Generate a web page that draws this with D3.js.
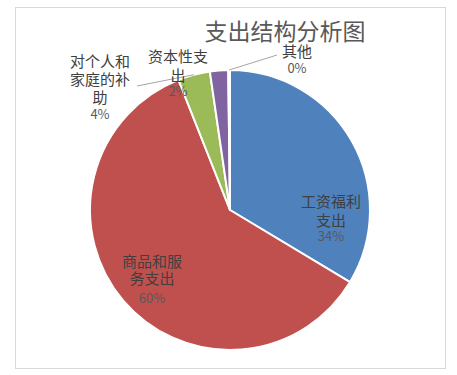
<!DOCTYPE html>
<html>
<head>
<meta charset="utf-8">
<script src="https://cdn.jsdelivr.net/npm/d3@7"></script>
<style>
  body { margin: 0; background: #fff; }
  text { font-family: "Noto Sans CJK SC", "Noto Sans", sans-serif; }
</style>
</head>
<body>
<div class="chart"></div>
<script>
// 支出结构分析图 -- pie chart of expenditure structure

var svgWidth = 457;
var svgHeight = 375;

// data
var categories = ["工资福利支出", "商品和服务支出", "对个人和家庭的补助", "资本性支出", "其他"];
var values = [33.6, 60.4, 3.7, 2.1, 0.2];
var colors = ["#4f81bd", "#c0504d", "#9bbb59", "#8064a2", "#f79646"];

// how each label is broken into lines, and where its block sits
var labelLines = [["工资福利", "支出"], ["商品和服", "务支出"], ["对个人和", "家庭的补", "助"], ["资本性支", "出"], ["其他"]];
var labelLayout = [
  { x: 331, y: [200, 219, 235] },
  { x: 152, y: [260, 277, 297] },
  { x: 100, y: [60, 78, 96, 113] },
  { x: 178, y: [55, 74, 90] },
  { x: 297, y: [50, 67] }
];
// leader lines start at the label, end on the slice edge
var leaderStart = { 2: [137, 86], 4: [277, 55] };

var cx = 230, cy = 210, radius = 140;

var svg = d3.select(".chart")
  .append("svg")
  .attr("width", svgWidth)
  .attr("height", svgHeight);

// chart frame
svg.append("rect")
  .attr("x", 15.5)
  .attr("y", 7.5)
  .attr("width", 430)
  .attr("height", 361)
  .attr("fill", "#fff")
  .attr("stroke", "#d9d9d9");

// title
svg.append("text")
  .attr("x", 285)
  .attr("y", 30)
  .attr("text-anchor", "middle")
  .attr("dominant-baseline", "central")
  .attr("font-size", "23px")
  .attr("fill", "#595959")
  .text("支出结构分析图");

var total = d3.sum(values);
var rows = categories.map(function(c, i) {
  return { name: c, value: values[i], index: i };
});

var pie = d3.pie()
  .sort(null)
  .value(function(d) { return d.value; });

var arc = d3.arc().innerRadius(0).outerRadius(radius);
var edgeArc = d3.arc().innerRadius(radius).outerRadius(radius);

var chart = svg.append("g")
  .attr("transform", "translate(" + cx + "," + cy + ")");

var arcs = pie(rows);

chart.selectAll("path")
  .data(arcs)
  .enter().append("path")
    .attr("d", arc)
    .attr("fill", function(d) { return colors[d.data.index]; })
    .attr("stroke", "#fff")
    .attr("stroke-width", 2)
    .attr("stroke-linejoin", "round");

// leader lines
arcs.forEach(function(d) {
  var s = leaderStart[d.data.index];
  if (!s) return;
  var e = edgeArc.centroid(d);
  svg.append("line")
    .attr("x1", s[0])
    .attr("y1", s[1])
    .attr("x2", cx + e[0])
    .attr("y2", cy + e[1])
    .attr("stroke", "#a6a6a6")
    .attr("stroke-width", 1);
});

// labels: one text per slice, name lines plus rounded percentage as tspans
svg.selectAll(".label")
  .data(arcs)
  .enter().append("text")
    .attr("class", "label")
    .attr("text-anchor", "middle")
    .attr("dominant-baseline", "central")
    .attr("font-size", "15px")
    .attr("fill", "#404040")
    .each(function(d) {
      var i = d.data.index;
      var t = d3.select(this);
      var lay = labelLayout[i];
      var lines = labelLines[i];
      lines.forEach(function(line, k) {
        t.append("tspan")
          .attr("x", lay.x)
          .attr("y", lay.y[k])
          .text(line);
      });
      t.append("tspan")
        .attr("x", lay.x)
        .attr("y", lay.y[lines.length])
        .attr("font-size", "13px")
        .attr("fill", "#595959")
        .text(Math.round(d.data.value / total * 100) + "%");
    });
</script>
</body>
</html>
